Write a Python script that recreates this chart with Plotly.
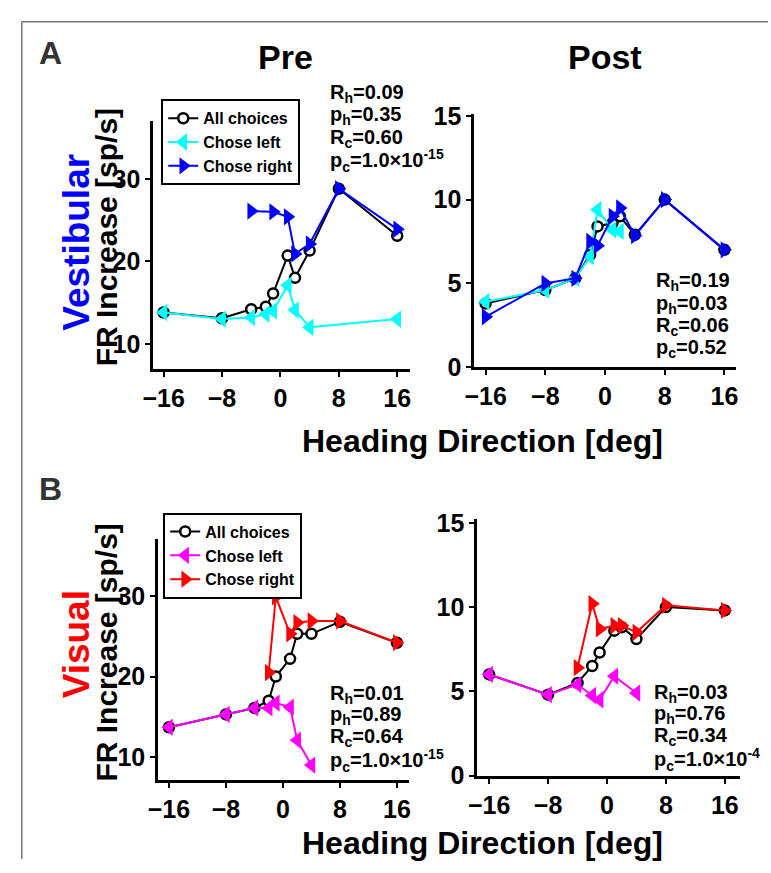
import plotly.graph_objects as go

W, H = 771, 873
FONT = "Liberation Sans, Arial, sans-serif"

# ---------------- data ----------------
headings = [-16, -8, -4, -2, -1, 1, 2, 4, 8, 16]
x_ticks = [-16, -8, 0, 8, 16]

# A: Vestibular, Pre
vest_pre_all = [13.8, 13.1, 14.2, 14.5, 16.1, 20.7, 18.0, 21.3, 28.8, 23.1]
vest_pre_left_x = [-16, -8, -4, -2, -1, 1, 2, 4, 16]
vest_pre_left = [13.8, 13.0, 13.2, 13.6, 14.0, 17.1, 14.1, 12.0, 13.0]
vest_pre_right_x = [-4, -1, 1, 2, 4, 8, 16]
vest_pre_right = [26.1, 26.0, 25.4, 20.9, 22.1, 28.8, 23.9]

# A: Vestibular, Post
vest_post_all = [3.8, 4.6, 5.3, 6.7, 8.4, 8.6, 9.0, 7.9, 10.0, 7.0]
vest_post_left_x = [-16, -8, -4, -2, -1, 1, 2]
vest_post_left = [3.9, 4.6, 5.3, 6.6, 9.4, 8.2, 8.1]
vest_post_right_x = [-16, -8, -4, -2, -1, 1, 2, 4, 8, 16]
vest_post_right = [3.0, 5.0, 5.3, 7.5, 7.25, 9.0, 9.5, 7.85, 10.0, 7.0]

# B: Visual, Pre
vis_pre_all = [13.7, 15.3, 16.1, 17.0, 20.0, 22.2, 25.3, 25.3, 26.8, 24.2]
vis_pre_left_x = [-16, -8, -4, -2, -1, 1, 2, 4]
vis_pre_left = [13.7, 15.3, 16.1, 16.1, 16.7, 16.2, 12.1, 9.0]
vis_pre_right_x = [-2, -1, 1, 2, 4, 8, 16]
vis_pre_right = [20.5, 29.9, 25.3, 26.7, 26.9, 26.9, 24.2]

# B: Visual, Post
vis_post_all = [6.0, 4.8, 5.5, 6.5, 7.3, 8.6, 8.8, 8.1, 10.0, 9.8]
vis_post_left_x = [-16, -8, -4, -2, -1, 1, 4]
vis_post_left = [6.0, 4.8, 5.4, 4.75, 4.5, 5.9, 4.9]
vis_post_right_x = [-4, -2, -1, 1, 2, 4, 8, 16]
vis_post_right = [6.4, 10.2, 8.7, 8.9, 8.9, 8.5, 10.1, 9.8]

stats_vest_pre = ["R<sub>h</sub>=0.09", "p<sub>h</sub>=0.35", "R<sub>c</sub>=0.60",
                  "p<sub>c</sub>=1.0×10<sup>-15</sup>"]
stats_vest_post = ["R<sub>h</sub>=0.19", "p<sub>h</sub>=0.03", "R<sub>c</sub>=0.06",
                   "p<sub>c</sub>=0.52"]
stats_vis_pre = ["R<sub>h</sub>=0.01", "p<sub>h</sub>=0.89", "R<sub>c</sub>=0.64",
                 "p<sub>c</sub>=1.0×10<sup>-15</sup>"]
stats_vis_post = ["R<sub>h</sub>=0.03", "p<sub>h</sub>=0.76", "R<sub>c</sub>=0.34",
                  "p<sub>c</sub>=1.0×10<sup>-4</sup>"]

legend_names = ["All choices", "Chose left", "Chose right"]


def px(p):
    return p / W


def py(p):
    return 1 - p / H


panels = [
    dict(n="", xd=(145, 406), yd=(112, 368), xr=[-17.4, 17.7], yr=[6.94, 37.06],
         yt=[10, 20, 30], all=vest_pre_all,
         lx=vest_pre_left_x, ly=vest_pre_left, rx=vest_pre_right_x, ry=vest_pre_right,
         lc="#00FFFF", rc="#0000FF", leg="legend", stats=stats_vest_pre,
         sx=323, sy=[84, 107, 130, 153]),
    dict(n="2", xd=(472, 738), yd=(105, 366), xr=[-17.5, 17.5], yr=[0, 15.12],
         yt=[0, 5, 10, 15], all=vest_post_all,
         lx=vest_post_left_x, ly=vest_post_left, rx=vest_post_right_x, ry=vest_post_right,
         lc="#00FFFF", rc="#0000FF", leg=None, stats=stats_vest_post,
         sx=655, sy=[278, 301, 324, 347]),
    dict(n="3", xd=(150, 405), yd=(543, 792), xr=[-17.5, 17.65], yr=[7.1, 37.1],
         yt=[10, 20, 30], all=vis_pre_all,
         lx=vis_pre_left_x, ly=vis_pre_left, rx=vis_pre_right_x, ry=vis_pre_right,
         lc="#FF00FF", rc="#FF0000", leg="legend2", stats=stats_vis_pre,
         sx=323, sy=[703, 725, 748, 771]),
    dict(n="4", xd=(475, 742), yd=(523, 787), xr=[-17.6, 18.0], yr=[0, 15.2],
         yt=[0, 5, 10, 15], all=vis_post_all,
         lx=vis_post_left_x, ly=vis_post_left, rx=vis_post_right_x, ry=vis_post_right,
         lc="#FF00FF", rc="#FF0000", leg=None, stats=stats_vis_post,
         sx=653, sy=[702, 724, 747, 770]),
]

fig = go.Figure()
layout_axes = {}
annotations = []

for p in panels:
    xa, ya = "x" + p["n"], "y" + p["n"]
    show = p["leg"] is not None
    legname = p["leg"] if show else "legend"
    fig.add_trace(go.Scatter(
        x=headings, y=p["all"], xaxis=xa, yaxis=ya, mode="lines+markers",
        name=legend_names[0], showlegend=show, legend=legname,
        line=dict(color="black", width=2),
        marker=dict(symbol="circle", size=10, color="white",
                    line=dict(color="black", width=2.5))))
    fig.add_trace(go.Scatter(
        x=p["lx"], y=p["ly"], xaxis=xa, yaxis=ya, mode="lines+markers",
        name=legend_names[1], showlegend=show, legend=legname,
        line=dict(color=p["lc"], width=2),
        marker=dict(symbol="triangle-left", size=15, color=p["lc"],
                    line=dict(width=0))))
    fig.add_trace(go.Scatter(
        x=p["rx"], y=p["ry"], xaxis=xa, yaxis=ya, mode="lines+markers",
        name=legend_names[2], showlegend=show, legend=legname,
        line=dict(color=p["rc"], width=2),
        marker=dict(symbol="triangle-right", size=15, color=p["rc"],
                    line=dict(width=0))))

    axis_common = dict(showline=True, linewidth=3, linecolor="black", ticks="outside",
                       ticklen=5, tickwidth=2, tickcolor="black", showgrid=False,
                       zeroline=False, fixedrange=True,
                       tickfont=dict(family=FONT, size=25, color="black", weight="bold"))
    xkey = "xaxis" + p["n"]
    ykey = "yaxis" + p["n"]
    layout_axes[xkey] = dict(domain=[px(p["xd"][0]), px(p["xd"][1])], range=p["xr"],
                             tickvals=x_ticks, anchor=ya, **axis_common)
    layout_axes[ykey] = dict(domain=[py(p["yd"][1]), py(p["yd"][0])], range=p["yr"],
                             tickvals=p["yt"], anchor=xa, **axis_common)

    for txt, yy in zip(p["stats"], p["sy"]):
        annotations.append(dict(text=txt, x=px(p["sx"]), y=py(yy), xref="paper", yref="paper",
                                xanchor="left", yanchor="middle", showarrow=False,
                                font=dict(family=FONT, size=20, color="black", weight="bold")))


def label(text, x, y, size, color="black", angle=0):
    annotations.append(dict(text=text, x=px(x), y=py(y), xref="paper", yref="paper",
                            xanchor="center", yanchor="middle", showarrow=False,
                            textangle=angle,
                            font=dict(family=FONT, size=size, color=color, weight="bold")))


label("A", 40, 42, 32, "#333333")
label("B", 40, 492, 32, "#333333")
label("Pre", 280, 46, 34)
label("Post", 605, 46, 34)
label("Vestibular", 67, 237, 37, "#0000FF", -90)
label("FR Increase [sp/s]", 97, 232, 30, "black", -90)
label("Visual", 67, 652, 37, "#FF0000", -90)
label("FR Increase [sp/s]", 97, 660, 30, "black", -90)
label("Heading Direction [deg]", 480, 442, 32)
label("Heading Direction [deg]", 480, 857, 32)

legend_common = dict(xanchor="left", yanchor="top", bordercolor="black", borderwidth=2,
                     bgcolor="white", tracegroupgap=0,
                     font=dict(family=FONT, size=16, color="black", weight="bold"))

fig.update_layout(
    width=W, height=H, autosize=False,
    margin=dict(l=0, r=0, t=0, b=0),
    paper_bgcolor="white", plot_bgcolor="rgba(0,0,0,0)",
    annotations=annotations,
    legend=dict(x=px(153), y=py(90), **legend_common),
    legend2=dict(x=px(155), y=py(516), **legend_common),
    shapes=[
        dict(type="line", xref="paper", yref="paper", x0=px(11), x1=1, y0=py(10), y1=py(10),
             line=dict(color="#777777", width=1.5)),
        dict(type="line", xref="paper", yref="paper", x0=px(11), x1=px(11), y0=0, y1=py(10),
             line=dict(color="#777777", width=1.5)),
    ],
    **layout_axes,
)

fig.write_html("out.html")
